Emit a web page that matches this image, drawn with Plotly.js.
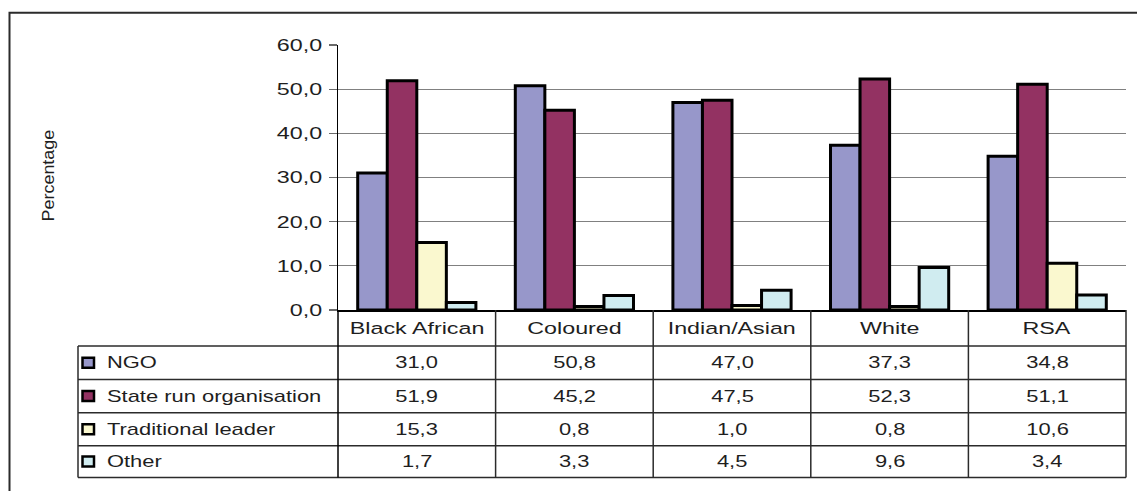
<!DOCTYPE html>
<html>
<head>
<meta charset="utf-8">
<script src="https://cdn.plot.ly/plotly-3.0.1.min.js"></script>
<style>
  html, body { margin: 0; padding: 0; background: #fff; }
  #chart { width: 1137px; height: 491px; }
</style>
</head>
<body>
<div id="chart"></div>
<script>
// Population groups along the x axis
const categories = ['Black African', 'Coloured', 'Indian/Asian', 'White', 'RSA'];

// Series (percent of respondents)
const seriesNames = ['NGO', 'State run organisation', 'Traditional leader', 'Other'];
const ngo         = [31.0, 50.8, 47.0, 37.3, 34.8];
const stateRun    = [51.9, 45.2, 47.5, 52.3, 51.1];
const traditional = [15.3, 0.8, 1.0, 0.8, 10.6];
const other       = [1.7, 3.3, 4.5, 9.6, 3.4];

// Axis
const yTickValues = [0, 10, 20, 30, 40, 50, 60];
const yTitle = 'Percentage';

const seriesValues = [ngo, stateRun, traditional, other];
const seriesColors = ['#9797ca', '#933262', '#faf8cf', '#d0ecf0'];

const FONT = 'Liberation Sans, Arial, Helvetica, sans-serif';
const TEXT_COLOR = '#1e1e1e';
const LINE_COLOR = '#2b2b2b';

// Figure geometry (pixels)
const W = 1137, H = 491;
const plotLeft = 338, plotRight = 1126, plotTop = 45, plotBottom = 310;
const px = p => (p - plotLeft) / (plotRight - plotLeft);
const py = p => (plotBottom - p) / (plotBottom - plotTop);

// Data table under the chart
const tableLeft = 78;
const headerMid = 328;
const rowLines = [346, 379.5, 412.7, 445.7, 477.5];
const rowMid = i => (rowLines[i] + rowLines[i + 1]) / 2;

const fmt = v => v.toFixed(1).replace('.', ',');

const traces = seriesNames.map((name, s) => ({
  type: 'bar',
  name: name,
  x: categories,
  y: seriesValues[s],
  marker: { color: seriesColors[s], line: { color: '#000', width: 3 } },
  showlegend: false,
  hoverinfo: 'none'
}));

const shapes = [];
const annotations = [];

// Outer frame (runs off the right and bottom edges)
shapes.push({
  type: 'rect', xref: 'paper', yref: 'paper',
  x0: px(9.5), x1: px(1160), y0: py(12.7), y1: py(520),
  line: { color: LINE_COLOR, width: 2 }, fillcolor: 'rgba(0,0,0,0)'
});

// Table horizontal rules
rowLines.forEach(y => shapes.push({
  type: 'line', xref: 'paper', yref: 'paper',
  x0: px(tableLeft), x1: 1, y0: py(y), y1: py(y),
  line: { color: LINE_COLOR, width: 1.5 }
}));
// Table left edge (series label column)
shapes.push({
  type: 'line', xref: 'paper', yref: 'paper',
  x0: px(tableLeft), x1: px(tableLeft), y0: py(rowLines[0]), y1: py(rowLines[rowLines.length - 1]),
  line: { color: LINE_COLOR, width: 1.5 }
});
// Column separators, one per category boundary
for (let k = 0; k <= categories.length; k++) {
  const xb = k / categories.length;
  shapes.push({
    type: 'line', xref: 'paper', yref: 'paper',
    x0: xb, x1: xb, y0: 0, y1: py(rowLines[rowLines.length - 1]),
    line: { color: k === 0 ? '#000' : LINE_COLOR, width: 1.5 }
  });
}

// Column headers
categories.forEach(c => annotations.push({
  xref: 'x', yref: 'paper', x: c, y: py(headerMid),
  text: c, showarrow: false, xanchor: 'center', yanchor: 'middle',
  font: { family: FONT, size: 17, color: TEXT_COLOR }
}));

// Row labels with colour keys, and the values
seriesNames.forEach((name, s) => {
  const yc = rowMid(s);
  shapes.push({
    type: 'rect', xref: 'paper', yref: 'paper',
    x0: px(82.5), x1: px(94), y0: py(yc - 5), y1: py(yc + 5),
    fillcolor: seriesColors[s], line: { color: '#000', width: 2.5 }
  });
  annotations.push({
    xref: 'paper', yref: 'paper', x: px(105), y: py(yc),
    text: name, showarrow: false, xanchor: 'left', yanchor: 'middle', align: 'left',
    font: { family: FONT, size: 16, color: TEXT_COLOR }
  });
  categories.forEach((c, i) => annotations.push({
    xref: 'x', yref: 'paper', x: c, y: py(yc),
    text: fmt(seriesValues[s][i]), showarrow: false, xanchor: 'center', yanchor: 'middle',
    font: { family: FONT, size: 16, color: TEXT_COLOR }
  }));
});

// Y axis title
annotations.push({
  xref: 'paper', yref: 'paper', x: px(48.5), y: py(176),
  text: yTitle, textangle: -90, showarrow: false, xanchor: 'center', yanchor: 'middle',
  font: { family: FONT, size: 16, color: TEXT_COLOR }
});

const layout = {
  width: W, height: H,
  margin: { l: plotLeft, r: W - plotRight, t: plotTop, b: H - plotBottom, pad: 0 },
  paper_bgcolor: '#fff', plot_bgcolor: '#fff',
  font: { family: FONT, color: TEXT_COLOR },
  separators: ',.',
  barmode: 'group', bargap: 0.25, bargroupgap: 0,
  showlegend: false,
  xaxis: {
    type: 'category', showticklabels: false, ticks: '',
    showline: true, linecolor: '#000', linewidth: 1.5,
    showgrid: false, zeroline: false, fixedrange: true
  },
  yaxis: {
    range: [0, 60], tickvals: yTickValues, tickformat: '.1f',
    ticks: 'outside', ticklen: 8, tickcolor: '#6a6a6a', tickwidth: 1.3,
    showgrid: true, gridcolor: '#808080', gridwidth: 1.3,
    showline: true, linecolor: '#000', linewidth: 1.5,
    zeroline: false, fixedrange: true, ticklabelstandoff: 3,
    tickfont: { family: FONT, size: 17, color: TEXT_COLOR }
  },
  shapes: shapes,
  annotations: annotations
};

// The lettering of this chart is set wide; stretch each label along its baseline
function widenText(gd) {
  gd.querySelectorAll('text').forEach(el => {
    if (!el.textContent) return;
    const factor = el.textContent === yTitle ? 1.12 : 1.37;
    const bb = el.getBBox();
    const anchor = el.getAttribute('text-anchor') || 'start';
    const ax = anchor === 'end' ? bb.x + bb.width : anchor === 'middle' ? bb.x + bb.width / 2 : bb.x;
    const prev = el.getAttribute('transform') || '';
    el.setAttribute('transform', prev + ' translate(' + ax + ',0) scale(' + factor + ',1) translate(' + (-ax) + ',0)');
  });
}

Plotly.newPlot('chart', traces, layout, { displayModeBar: false, staticPlot: true, responsive: false })
  .then(widenText);
</script>
</body>
</html>
